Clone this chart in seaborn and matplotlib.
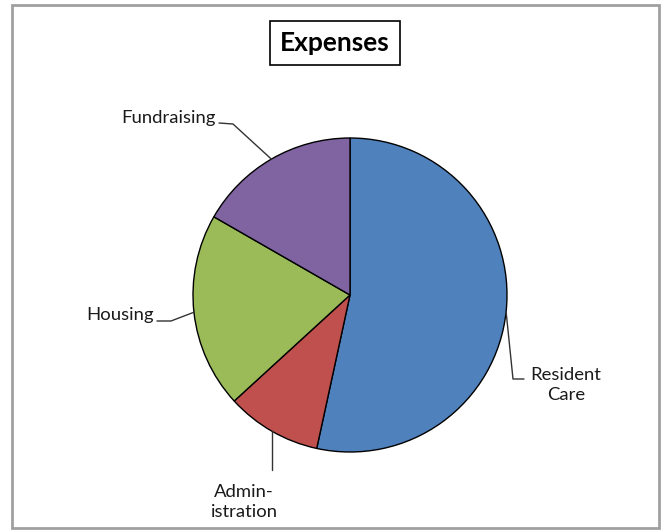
import numpy as np
import seaborn as sns
import matplotlib.pyplot as plt
from matplotlib.patches import Rectangle

# datos del grafico (porcentajes)
categorias = ['Resident Care', 'Administration', 'Housing', 'Fundraising']
valores = [53.4, 9.8, 20.1, 16.7]
etiquetas = ['Resident\nCare', 'Admin-\nistration', 'Housing', 'Fundraising']
colores = ['#4F81BD', '#C0504D', '#9BBB59', '#8064A2']

sns.set_theme(style='white')
plt.rcParams['font.family'] = ['Lato', 'DejaVu Sans']

W, H = 666, 531
fig = plt.figure(figsize=(W / 100, H / 100), dpi=100)
ax = fig.add_axes([0, 0, 1, 1])

# pastel en coordenadas de pixel (y hacia arriba)
cx, cy, r = 350, H - 295, 157
wedges, _ = ax.pie(valores, colors=colores, startangle=90, counterclock=False,
                   center=(cx, cy), radius=r, frame=True,
                   wedgeprops={'edgecolor': 'black', 'linewidth': 1.0})
ax.set_xlim(0, W)
ax.set_ylim(0, H)
ax.set_aspect('equal')
ax.axis('off')

def borde(w):
    ang = np.deg2rad((w.theta1 + w.theta2) / 2)
    return cx + r * np.cos(ang), cy + r * np.sin(ang)

# etiquetas con lineas guia estilo Excel
kw = dict(fontsize=13.3, color='#1a1a1a')
lk = dict(color='#333333', lw=1.0)

# Resident Care
x0, y0 = borde(wedges[0])
ax.plot([x0, 513, 524], [y0, H - 379, H - 379], **lk)
ax.text(566, H - 385, etiquetas[0], ha='center', va='center', linespacing=1.25, **kw)

# Administration
x0, y0 = borde(wedges[1])
ax.plot([x0, x0], [y0, H - 470], **lk)
ax.text(244, H - 502, etiquetas[1], ha='center', va='center', linespacing=1.25, **kw)

# Housing
x0, y0 = borde(wedges[2])
ax.plot([157, 171, x0], [H - 321, H - 321, y0], **lk)
ax.text(154, H - 315, etiquetas[2], ha='right', va='center', **kw)

# Fundraising
x0, y0 = borde(wedges[3])
ax.plot([219, 233, x0], [H - 123, H - 124, y0], **lk)
ax.text(216, H - 118, etiquetas[3], ha='right', va='center', **kw)

# titulo con recuadro
ax.text(335, H - 43, 'Expenses', ha='center', va='center', fontsize=19,
        fontweight='bold', color='black',
        bbox=dict(boxstyle='square,pad=0.38', facecolor='white',
                  edgecolor='black', linewidth=1.2))

# marco gris del grafico
fig.patches.append(Rectangle((12 / W, 3 / H), 647 / W, 523 / H,
                             transform=fig.transFigure, fill=False,
                             edgecolor='#a0a0a0', linewidth=2.0))

fig.savefig('out.png', dpi=100)
